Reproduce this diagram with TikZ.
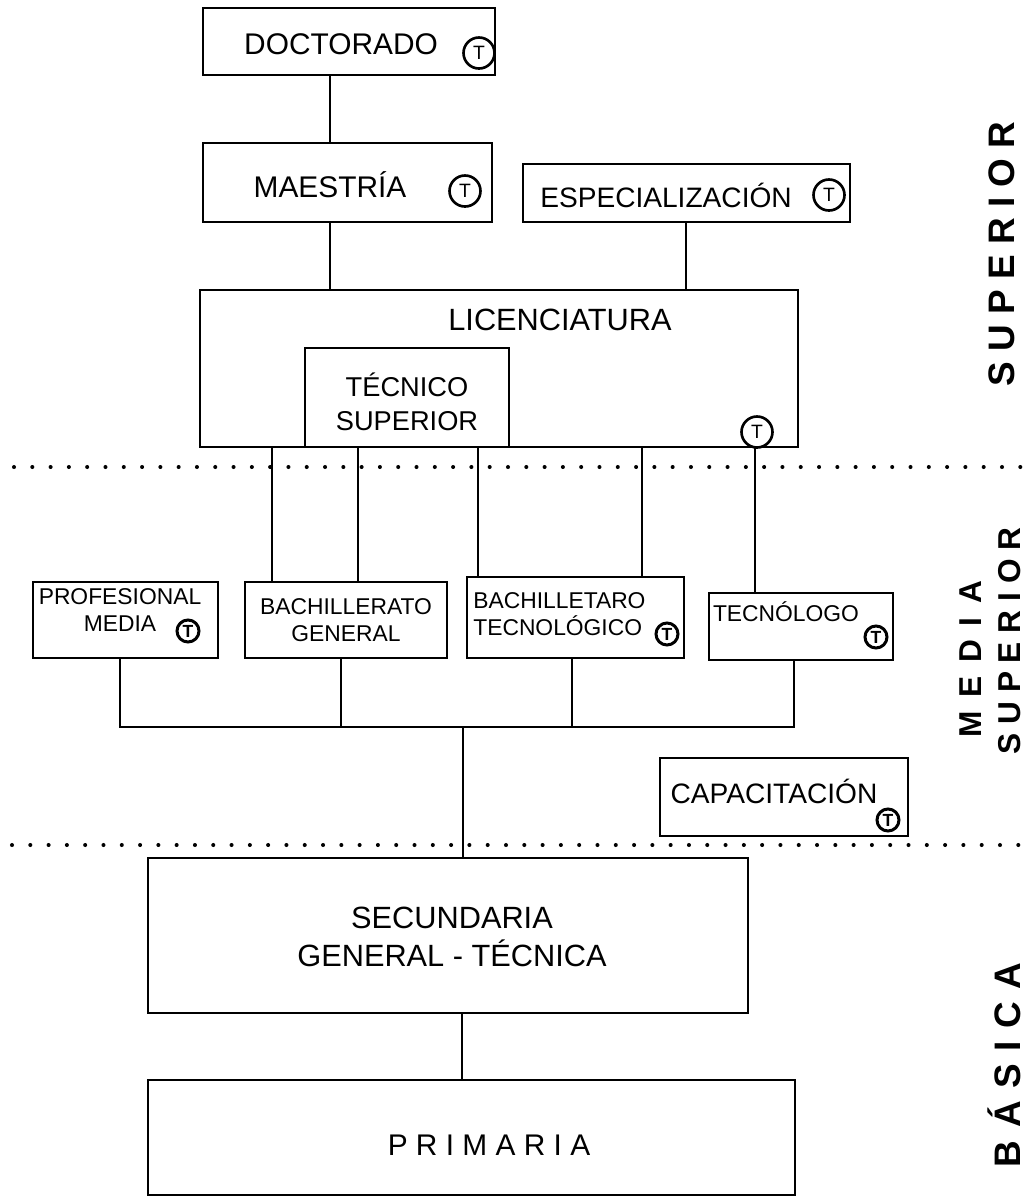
\documentclass[tikz,border=0pt]{standalone}
\usepackage{fontspec}
\setmainfont{Liberation Sans}
\usetikzlibrary{positioning}

\begin{document}
\begin{tikzpicture}[x=0.02cm, y=-0.02cm, line width=1.5pt]
        \tikzstyle{box} = [rectangle, draw, inner sep=0pt]
        \tikzstyle{big} = [font=\fontsize{17}{21}\selectfont, inner sep=0pt, align=center]
        \tikzstyle{mid} = [font=\fontsize{16}{19}\selectfont, inner sep=0pt, align=center]
        \tikzstyle{small} = [font=\fontsize{13}{15.5}\selectfont, inner sep=0pt]
        \tikzstyle{tee} = [circle, draw, inner sep=0pt, minimum size=0.62cm, font=\fontsize{11}{11}\selectfont]
        \tikzstyle{teesmall} = [circle, draw, line width=1.7pt, inner sep=0pt, minimum size=0.44cm, font=\bfseries\fontsize{10}{10}\selectfont]
        \tikzstyle{level} = [rotate=90, inner sep=0pt, align=center]
        \tikzstyle{limit} = [line width=2.3pt, line cap=round, dash pattern=on 0pt off 0.366cm]

        \useasboundingbox (0,0) rectangle (1034,1198);

        % superior
        \node [box, minimum width=5.84cm, minimum height=1.34cm] (doc) at (349,41.5) {};
        \node [big] (doctxt) at (341,44) {DOCTORADO};
        \node [tee] (doct) at (479,53) {T};
        \node [box, minimum width=5.78cm, minimum height=1.58cm] (mae) at (347.5,182.5) {};
        \node [big] (maetxt) at (330,185) {MAESTRÍA};
        \node [tee] (maet) at (465,191) {T};
        \node [box, minimum width=6.54cm, minimum height=1.16cm] (esp) at (686.5,193) {};
        \node [mid] (esptxt) at (666,195) {ESPECIALIZACIÓN};
        \node [tee] (espt) at (829,195) {T};
        \node [box, minimum width=11.96cm, minimum height=3.14cm] (lic) at (499,368.5) {};
        \node [big, font=\fontsize{17.5}{21}\selectfont] (lictxt) at (560,320) {LICENCIATURA};
        \node [box, minimum width=4.08cm, minimum height=1.98cm] (tec) at (407,397.5) {};
        \node [mid, font=\fontsize{15.5}{19}\selectfont] (tectxt) at (407,402) {TÉCNICO\\SUPERIOR};
        \node [tee] (lict) at (757,432) {T};

        \draw (330,0 |- doc.south) -- (330,0 |- mae.north);
        \draw (330,0 |- mae.south) -- (330,0 |- lic.north);
        \draw (686,0 |- esp.south) -- (686,0 |- lic.north);

        % media superior
        \node [box, minimum width=3.70cm, minimum height=1.52cm] (prof) at (125.5,620) {};
        \node [small, align=center] (proftxt) at (120,610) {PROFESIONAL\\MEDIA};
        \node [teesmall] (proft) at (188,631) {T};
        \node [box, small, align=center, minimum width=4.04cm, minimum height=1.52cm] (bg) at (346,620) {BACHILLERATO\\GENERAL};
        \node [box, minimum width=4.34cm, minimum height=1.62cm] (bt) at (575.5,617.5) {};
        \node [small, align=left, anchor=west] (bttxt) at (472,614) {BACHILLETARO\\TECNOLÓGICO};
        \node [teesmall] (btt) at (667,634) {T};
        \node [box, minimum width=3.68cm, minimum height=1.34cm] (tno) at (801,626.5) {};
        \node [small] (tnotxt) at (786,612) {TECNÓLOGO};
        \node [teesmall] (tnot) at (876,637) {T};
        \node [box, minimum width=4.96cm, minimum height=1.56cm] (cap) at (784,797) {};
        \node [mid] (captxt) at (774,791) {CAPACITACIÓN};
        \node [teesmall] (capt) at (888,820) {T};

        \foreach \x/\tgt in {272/bg, 358/bg, 478/bt, 642/bt, 755/tno}
            \draw (\x,0 |- lic.south) -- (\x,0 |- \tgt.north);

        \coordinate (jl) at (120,727);
        \coordinate (hub) at (463,727);
        \coordinate (jr) at (794,727);
        \draw (120,0 |- prof.south) -- (jl) -- (jr) -- (794,0 |- tno.south);
        \draw (341,0 |- bg.south) -- (341,0 |- hub);
        \draw (572,0 |- bt.south) -- (572,0 |- hub);

        % basica
        \node [box, minimum width=12cm, minimum height=3.10cm] (sec) at (448,935.5) {};
        \node [big, font=\fontsize{17.5}{22}\selectfont] (sectxt) at (452,937) {SECUNDARIA\\GENERAL - TÉCNICA};
        \node [box, minimum width=12.94cm, minimum height=2.30cm] (pri) at (471.5,1137.5) {};
        \node [big] (pritxt) at (489,1145) {P R I M A R I A};

        \draw (hub) -- (hub |- sec.north);
        \draw (462,0 |- sec.south) -- (462,0 |- pri.north);

        % levels
        \draw [limit] (14,467) -- (1034,467);
        \draw [limit] (12,845) -- (1034,845);
        \node [level, font=\bfseries\fontsize{21}{21}\selectfont\addfontfeature{LetterSpace=28}] (supl) at (1002,254) {SUPERIOR};
        \node [level, font=\bfseries\fontsize{18}{18}\selectfont\addfontfeature{LetterSpace=43}] (medl) at (971,659) {MEDIA};
        \node [level, font=\bfseries\fontsize{18}{18}\selectfont\addfontfeature{LetterSpace=28}] (msupl) at (1010,641) {SUPERIOR};
        \node [level, font=\bfseries\fontsize{21}{21}\selectfont\addfontfeature{LetterSpace=34}] (basl) at (1004,1065) {BÁSICA};
    \end{tikzpicture}
\end{document}
